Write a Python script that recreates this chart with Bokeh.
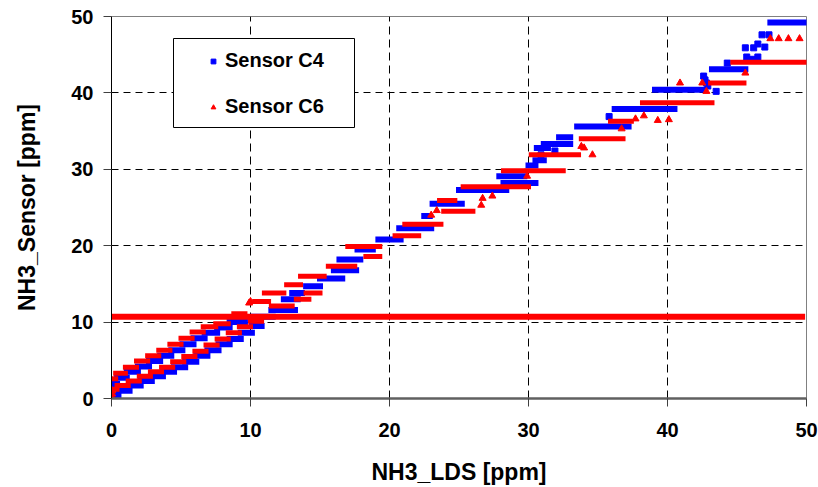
from bokeh.plotting import figure
from bokeh.models import (Range1d, FixedTicker, ColumnDataSource, Legend, LegendItem,
                          BoxAnnotation)
from bokeh.embed import file_html
from bokeh.resources import INLINE

# ---------------- data ----------------
x_ticks = [0, 10, 20, 30, 40, 50]
y_ticks = [0, 10, 20, 30, 40, 50]
grid_ticks = [10, 20, 30, 40]

# Sensor C4: horizontal runs of consecutive readings (x start, x end, level)
c4_runs = [
    # upper branch (0..10 ppm)
    (0.0, 0.4, 1.9), (0.4, 1.1, 2.7), (1.1, 1.9, 3.5), (1.9, 2.7, 4.2), (2.7, 3.5, 4.9),
    (3.5, 4.3, 5.6), (4.3, 5.1, 6.3), (5.1, 5.9, 7.1), (5.9, 6.7, 7.9), (6.7, 7.6, 8.6),
    (7.6, 8.5, 9.3), (8.5, 9.6, 10.0),
    # lower branch (0..10 ppm)
    (0.0, 0.5, 0.4), (0.5, 1.3, 1.0), (1.3, 2.1, 1.7), (2.1, 2.9, 2.3), (2.9, 3.7, 2.9),
    (3.7, 4.5, 3.5), (4.5, 5.3, 4.1), (5.3, 6.1, 4.8), (6.1, 6.9, 5.6), (6.9, 7.7, 6.3),
    (7.7, 8.5, 7.1), (8.5, 9.3, 7.8), (9.3, 10.1, 8.6), (10.1, 10.8, 9.5),
    # above 10 ppm
    (10.2, 11.6, 10.7), (11.5, 13.2, 11.6), (12.4, 13.4, 13.0), (13.0, 13.7, 13.8),
    (14.0, 15.0, 14.7), (15.0, 16.6, 15.7), (16.0, 17.6, 16.8), (16.4, 17.9, 18.2),
    (17.7, 18.8, 19.5), (19.2, 20.8, 20.8), (20.7, 23.0, 22.3), (22.5, 22.9, 23.9),
    (23.1, 25.2, 25.5), (25.0, 28.4, 27.3), (27.9, 29.7, 29.1), (28.2, 30.5, 28.2),
    (30.0, 30.5, 30.5), (30.5, 31.1, 31.2), (30.6, 31.4, 32.8), (31.1, 33.0, 33.3),
    (32.2, 33.0, 34.2), (33.5, 37.2, 35.6), (36.2, 40.5, 37.9), (39.1, 42.5, 40.4),
    (43.2, 45.6, 43.1), (47.4, 50.0, 49.2),
]
# Sensor C4: isolated readings
c4_pt_x = [30.9, 31.9, 35.8, 42.6, 42.7, 42.8, 42.9, 43.5, 44.3, 45.7, 46.1, 46.5,
           45.6, 46.2, 46.5, 47.0, 46.8, 47.3]
c4_pt_y = [31.9, 32.4, 36.9, 42.2, 41.7, 41.3, 40.9, 40.2, 43.9, 44.7, 44.4, 44.7,
           45.9, 45.9, 46.4, 46.0, 47.6, 47.6]

# Sensor C6: horizontal runs (x start, x end, level)
c6_runs = [
    # upper branch
    (0.0, 0.3, 2.6), (0.3, 1.0, 3.3), (1.0, 1.8, 4.1), (1.8, 2.6, 4.9), (2.6, 3.4, 5.6),
    (3.4, 4.2, 6.3), (4.2, 5.0, 7.1), (5.0, 5.8, 7.9), (5.8, 6.6, 8.7), (6.6, 7.5, 9.4),
    (7.5, 8.4, 9.8), (8.8, 9.6, 11.1),
    # lower branch
    (0.0, 0.4, 1.2), (0.4, 1.2, 1.7), (1.2, 2.0, 2.3), (2.0, 2.8, 2.9), (2.8, 3.6, 3.5),
    (3.6, 4.4, 4.1), (4.4, 5.2, 4.8), (5.2, 6.0, 5.5), (6.0, 6.8, 6.2), (6.8, 7.6, 7.0),
    (7.6, 8.4, 7.8), (8.4, 9.2, 8.6), (9.2, 10.0, 9.4), (10.0, 10.8, 10.1),
    # above 10 ppm
    (10.3, 11.3, 12.7), (11.0, 12.4, 13.8), (11.5, 13.0, 12.1), (12.6, 13.6, 14.9),
    (13.3, 14.2, 13.0), (14.0, 15.0, 13.8), (13.6, 15.3, 16.0), (15.6, 17.5, 17.3),
    (17.0, 19.3, 19.9), (18.3, 19.3, 18.6), (20.4, 22.1, 21.3), (21.1, 23.7, 22.8),
    (23.9, 26.0, 24.5), (23.6, 24.7, 25.9), (25.3, 30.0, 27.7), (28.2, 29.6, 29.8),
    (29.9, 32.5, 29.8), (30.2, 33.6, 31.9), (33.8, 36.8, 34.0), (35.9, 37.4, 36.3),
    (38.2, 43.2, 38.7), (43.1, 45.5, 41.3), (44.7, 50.0, 44.0),
]
# Sensor C6: isolated readings
c6_pt_x = [0.05, 0.05, 0.05, 9.9, 10.0, 23.0, 23.4, 26.6, 26.7, 27.4, 29.9, 34.6,
           33.8, 34.0, 36.7, 37.7, 38.3, 39.3, 40.1, 40.9, 42.5, 42.8, 45.6,
           47.4, 48.0, 48.7, 49.5]
c6_pt_y = [0.1, 0.6, 1.0, 12.5, 12.7, 24.0, 24.6, 25.3, 26.2, 26.5, 29.1, 31.9,
           33.0, 32.8, 35.3, 36.6, 37.0, 36.4, 36.5, 41.3, 41.3, 40.2, 42.6,
           47.1, 47.1, 47.1, 47.1]

# constant reading drawn across the whole range
limit_x = [-0.4, 49.9]
limit_y = [10.7, 10.7]

# ---------------- figure ----------------
FONT = "Liberation Sans"
BLUE = "#0000FF"
RED = "#FF0000"

p = figure(width=818, height=487, output_backend="svg", toolbar_location=None,
           x_range=Range1d(0, 50), y_range=Range1d(0, 50),
           min_border_left=111, min_border_right=12, min_border_top=16, min_border_bottom=88)
p.background_fill_color = "white"
p.border_fill_color = "white"
p.outline_line_color = "#808080"
p.outline_line_width = 1

def unzip(runs):
    return dict(x0=[r[0] for r in runs], x1=[r[1] for r in runs], y=[r[2] for r in runs])

c4_src = ColumnDataSource(unzip(c4_runs))
c6_src = ColumnDataSource(unzip(c6_runs))

p.segment(x0="x0", x1="x1", y0="y", y1="y", source=c4_src, line_color=BLUE,
          line_width=6, line_cap="square")
c4_pts = p.scatter(c4_pt_x, c4_pt_y, marker="square", size=6, fill_color=BLUE,
                   line_color=BLUE)
p.segment(x0="x0", x1="x1", y0="y", y1="y", source=c6_src, line_color=RED,
          line_width=5, line_cap="square")
c6_pts = p.scatter(c6_pt_x, c6_pt_y, marker="triangle", size=7, fill_color=RED,
                   line_color=RED)
p.line(limit_x, limit_y, line_color=RED, line_width=6)

# axes
for ax, tk in ((p.xaxis[0], x_ticks), (p.yaxis[0], y_ticks)):
    ax.ticker = FixedTicker(ticks=tk, minor_ticks=[])
    ax.major_label_text_font = FONT
    ax.major_label_text_font_style = "bold"
    ax.major_label_text_font_size = "20px"
    ax.major_label_text_color = "black"
    ax.axis_label_text_font = FONT
    ax.axis_label_text_font_style = "bold"
    ax.axis_label_text_font_size = "23px"
    ax.axis_label_text_color = "black"
    ax.major_tick_in = 0
    ax.major_tick_out = 8
    ax.major_tick_line_color = "#404040"
    ax.minor_tick_line_color = None

p.xaxis.axis_label = "NH3_LDS [ppm]"
p.yaxis.axis_label = "NH3_Sensor [ppm]"
p.xaxis.axis_line_color = "#606060"
p.xaxis.axis_line_width = 2.5
p.yaxis.axis_line_color = "black"
p.yaxis.axis_line_width = 1
p.xaxis.major_label_standoff = 16
p.yaxis.major_label_standoff = 10
p.xaxis.axis_label_standoff = 19
p.yaxis.axis_label_standoff = 28

for g in (p.xgrid[0], p.ygrid[0]):
    g.ticker = FixedTicker(ticks=grid_ticks, minor_ticks=[])
    g.grid_line_color = "black"
    g.grid_line_width = 1
p.xgrid.grid_line_dash = "8 5"
p.ygrid.grid_line_dash = "7 5"

# legend box + legend
box = BoxAnnotation(left=62, right=243, bottom=271, top=360,
                    left_units="screen", right_units="screen",
                    bottom_units="screen", top_units="screen",
                    fill_color="white", fill_alpha=1.0,
                    line_color="black", line_width=1, line_alpha=1.0)
p.add_layout(box)

legend = Legend(items=[LegendItem(label="Sensor C4", renderers=[c4_pts]),
                       LegendItem(label="Sensor C6", renderers=[c6_pts])],
                location=(92, 280), padding=0, margin=0, spacing=23,
                glyph_width=20, glyph_height=12, label_standoff=2,
                label_text_font=FONT, label_text_font_style="bold",
                label_text_font_size="20px", label_text_color="black",
                border_line_alpha=0, background_fill_alpha=0)
p.add_layout(legend, "center")

open("out.html", "w").write(file_html(p, INLINE))
